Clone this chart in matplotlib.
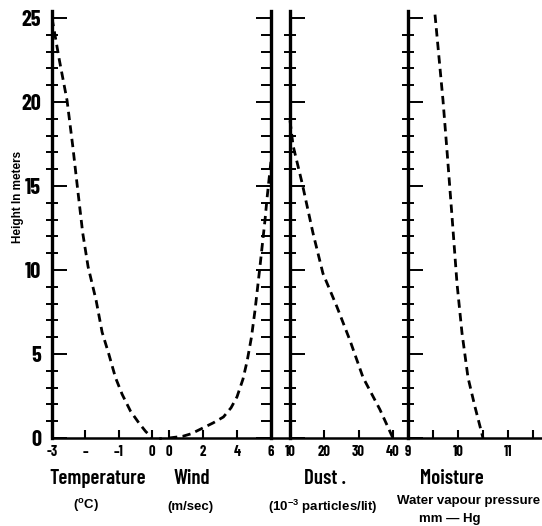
import matplotlib
matplotlib.use("Agg")
import matplotlib.pyplot as plt
from matplotlib.ticker import MultipleLocator

# values
temp_h = [25.0, 22.5, 20.1, 17.4, 14.6, 12.2, 10.2, 8.2, 6.3, 5.0, 3.6, 2.6, 1.6, 0.9, 0.4, 0.0]
temp_c = [-3.0, -2.78, -2.55, -2.38, -2.22, -2.08, -1.92, -1.68, -1.5, -1.3, -1.1, -0.9, -0.65, -0.4, -0.2, 0.0]

wind_h = [0.0, 0.1, 0.25, 0.5, 0.9, 1.25, 1.8, 2.45, 3.5, 4.6, 6.0, 7.6, 10.2, 13.0, 14.2, 16.5]
wind_v = [0.0, 0.8, 1.3, 1.8, 2.6, 3.2, 3.65, 4.0, 4.35, 4.6, 4.85, 5.06, 5.35, 5.65, 5.76, 6.0]

dust_h = [18.9, 17.4, 15.2, 12.2, 9.8, 7.8, 5.8, 3.6, 1.7, 0.0]
dust_n = [10.0, 10.9, 13.5, 16.7, 19.6, 23.7, 27.5, 31.3, 36.2, 40.0]

moist_h = [25.2, 20.1, 17.1, 13.2, 9.2, 6.25, 3.6, 1.85, 0.0]
moist_p = [9.54, 9.7, 9.78, 9.88, 9.98, 10.08, 10.2, 10.34, 10.5]

height_ticks = [0, 5, 10, 15, 20, 25]
temp_ticks = [-3, -2, -1, 0]
temp_labels = ["-3", "–", "–1", "0"]
wind_ticks = [0, 2, 4, 6]
dust_ticks = [10, 20, 30, 40]
moist_ticks = [9, 10, 11]

narrow = ["Barlow Condensed", "DejaVu Sans"]
plain = ["Liberation Sans", "DejaVu Sans"]
W, H = 542, 526
y0, ppm = 438, 16.8          # pixel row of height 0, pixels per metre
ytop = 25.4


def box(left, right):
    return [left / W, (H - y0) / H, (right - left) / W, ytop * ppm / H]


fig = plt.figure(figsize=(5.42, 5.26), dpi=100)

ax_t = fig.add_axes(box(52, 160))
ax_w = fig.add_axes(box(160, 271))
ax_d = fig.add_axes(box(271, 408))
ax_m = fig.add_axes(box(408, 542))

ax_t.set_xlim(-3, -3 + 108 / 33.4)
ax_w.set_xlim(-9 / 17, 6)
ax_d.set_xlim(10 - 19 / 3.43, 10 + 118 / 3.43)
ax_m.set_xlim(9, 9 + 134 / 50)

dash = dict(color="black", lw=2.0, ls=(0, (3.0, 1.9)))
ax_t.plot(temp_c, temp_h, **dash)
ax_w.plot(wind_v, wind_h, **dash)
ax_d.plot(dust_n, dust_h, **dash)
ax_m.plot(moist_p, moist_h, **dash)

for ax in (ax_t, ax_w, ax_d, ax_m):
    ax.set_ylim(0, ytop)
    ax.patch.set_alpha(0)
    ax.spines["top"].set_visible(False)
    ax.spines["bottom"].set_linewidth(1.8)
    ax.yaxis.set_major_locator(MultipleLocator(5))
    ax.yaxis.set_minor_locator(MultipleLocator(1))
    ax.tick_params(axis="x", direction="in", length=6, width=1.5, pad=5)
    ax.tick_params(axis="y", which="major", direction="in", length=11, width=1.4)
    ax.tick_params(axis="y", which="minor", direction="inout", length=9, width=1.4)

# thick vertical lines
ax_t.spines["right"].set_visible(False)
ax_t.spines["left"].set_linewidth(2.4)
ax_w.spines["left"].set_visible(False)
ax_w.spines["right"].set_linewidth(2.4)
ax_w.yaxis.tick_right()
ax_d.spines["right"].set_visible(False)
ax_d.spines["left"].set_position(("data", 10))
ax_d.spines["left"].set_linewidth(2.4)
ax_m.spines["right"].set_visible(False)
ax_m.spines["left"].set_linewidth(2.4)

for ax in (ax_w, ax_d, ax_m):
    ax.tick_params(axis="y", which="both", labelleft=False, labelright=False)
ax_w.tick_params(axis="y", which="minor", direction="in", length=7)

ax_t.set_yticks(height_ticks)
ax_t.set_yticklabels([str(v) for v in height_ticks], family=narrow,
                     fontweight="bold", fontsize=16)
ax_t.tick_params(axis="y", which="major", pad=8)

tick_font = dict(family=narrow, fontweight="bold", fontsize=10.5)
ax_t.set_xticks(temp_ticks)
ax_t.set_xticklabels(temp_labels, **tick_font)
ax_w.set_xticks(wind_ticks)
ax_w.set_xticklabels([str(v) for v in wind_ticks], **tick_font)
ax_d.set_xticks(dust_ticks)
ax_d.set_xticklabels([str(v) for v in dust_ticks], **tick_font)
ax_m.set_xticks(moist_ticks)
ax_m.set_xticklabels([str(v) for v in moist_ticks], **tick_font)
ax_m.xaxis.set_minor_locator(MultipleLocator(0.5))
ax_m.tick_params(axis="x", which="minor", direction="in", length=6, width=1.5)

# titles and units under the axes
title_font = dict(family=narrow, fontweight="semibold", fontsize=15,
                  ha="center", va="center")
unit_font = dict(family=plain, fontweight="bold", fontsize=9.5,
                 ha="center", va="center")


def put(x, y, s, **kw):
    fig.text(x / W, 1 - y / H, s, **kw)


put(98, 478, "Temperature", **title_font)
put(192, 478, "Wind", **title_font)
put(325, 478, "Dust .", **title_font)
put(452, 478, "Moisture", **title_font)
put(86, 506, "($^{\\mathregular{o}}$C)", **unit_font)
put(190, 507, "(m/sec)", **unit_font)
put(323, 507, "(10$^{\\mathregular{-3}}$ particles/lit)", **unit_font)
put(469, 501, "Water vapour pressure", **unit_font)
put(450, 519, "mm — Hg", **unit_font)

put(18, 197, "Height In meters", family=plain, fontweight="bold",
    fontsize=8.5, rotation=90, ha="center", va="center")

fig.savefig("out.png", dpi=100)
